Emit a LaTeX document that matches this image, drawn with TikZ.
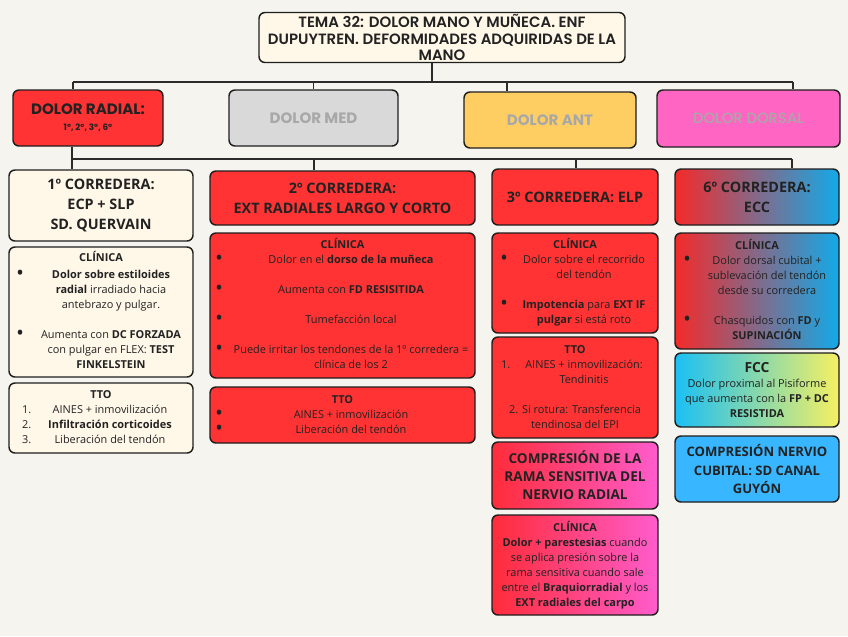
\documentclass[tikz,border=0pt]{standalone}
\usepackage{fontspec}
\usepackage{array}
\setmainfont{Open Sans}
\newfontfamily\popfont{Poppins}
\newfontfamily\popmedfont{Poppins Medium}
\newfontfamily\popsemifont{Poppins SemiBold}
\usetikzlibrary{positioning}
\definecolor{paper}     {HTML}{F5F4EF}
\definecolor{ink}       {HTML}{222222}
\definecolor{edgeInk}   {HTML}{1E1E1E}
\definecolor{linkInk}   {HTML}{2B2B2B}
\definecolor{creamFill} {HTML}{FFF8E9}
\definecolor{radialRed} {HTML}{FF3333}
\definecolor{medGrey}   {HTML}{D9D9D9}
\definecolor{antYellow} {HTML}{FFCE63}
\definecolor{dorsalPink}{HTML}{FF66C4}
\definecolor{fadedText} {HTML}{A8A8A8}
\definecolor{ramaRed}   {HTML}{FF2C3A}
\definecolor{ramaPink}  {HTML}{FF5CCC}
\definecolor{eccRed}    {HTML}{F42A2A}
\definecolor{eccBlue}   {HTML}{12AAE8}
\definecolor{fccCyan}   {HTML}{1AC0F5}
\definecolor{fccYellow} {HTML}{F5F062}
\definecolor{guyonBlue} {HTML}{38B6FF}
\newdimen\px \px=0.75pt
\newcommand{\bodyfont}{\fontsize{8.2}{11.25}\selectfont}
\newcommand{\headfont}{\fontsize{10.8}{15}\selectfont\bfseries}
\newcommand{\bul}{{\fontsize{12}{12}\selectfont\bfseries\textbullet}}
\newcommand{\blist}[3]{\begin{tabular}{@{}p{#1\px}@{}>{\centering\arraybackslash}p{#2\px}@{}}#3\end{tabular}}
\newcommand{\fullrow}[1]{\multicolumn{2}{@{}c@{}}{#1}}
\tikzset{
  sz/.style 2 args={minimum width={#1*0.75pt},minimum height={#2*0.75pt}},
  cardBox/.style={draw=edgeInk,line width=1.1pt,rounded corners=4.5pt,
                  inner sep=0pt,align=center,text=ink},
  creamBox/.style={cardBox,fill=creamFill},
  redBox/.style={cardBox,fill=radialRed},
  pinkBox/.style={cardBox,left color=ramaRed,right color=ramaPink},
  mixBox/.style={cardBox,left color=eccRed,right color=eccBlue},
  fccBox/.style={cardBox,left color=fccCyan,right color=fccYellow},
  catBox/.style={cardBox,font=\popfont\fontsize{11.3}{11.25}\selectfont\bfseries},
  headTxt/.style={font=\headfont},
  bodyTxt/.style={font=\bodyfont},
  link/.style={draw=linkInk,line width=1.1pt},
}

\begin{document}
\begin{tikzpicture}[x=0.75pt,y=-0.75pt]
\fill[paper] (0,0) rectangle (848,636);
\useasboundingbox (0,0) rectangle (848,636);

% Title and the four kinds of pain
\node[creamBox,sz={366}{50},font=\popsemifont\fontsize{11.2}{12.3}\selectfont]
  (title) at (442,37.5)
  {TEMA 32: DOLOR MANO Y MUÑECA. ENF\\DUPUYTREN. DEFORMIDADES ADQUIRIDAS DE LA\\MANO};

\node[catBox,fill=radialRed,sz={150}{56}] (radial) at (88,118)
  {DOLOR RADIAL:\\[1pt]{\fontsize{6.6}{7}\selectfont 1º, 2º, 3º, 6º}};
\node[catBox,fill=medGrey,text=fadedText,sz={169}{56}] (med) at (313.5,118) {DOLOR MED};
\node[catBox,fill=antYellow,text=fadedText,sz={172}{56}] (ant) at (550,120) {DOLOR ANT};
\node[catBox,fill=dorsalPink,text=fadedText,sz={183}{57},
      font=\popmedfont\fontsize{11.1}{11.25}\selectfont] (dorsal) at (748.5,118.5) {DOLOR DORSAL};

\coordinate (bus1) at (432,82);
\coordinate (dropRad) at (73,82);
\coordinate (dropMed) at (313.5,82);
\coordinate (dropAnt) at (507,82);
\coordinate (dropDor) at (793,82);
\draw[link] (bus1 |- title.south) -- (bus1);
\draw[link] (dropRad) -- (dropDor);
\foreach \d/\n in {dropRad/radial,dropMed/med,dropAnt/ant,dropDor/dorsal}
  \draw[link] (\d) -- (\d |- \n.north);

% 1st compartment
\node[creamBox,headTxt,sz={184}{71}] (cor1) at (101,205.5)
  {1º CORREDERA:\\ECP + SLP\\SD. QUERVAIN};
\node[creamBox,bodyTxt,sz={184}{130}] (clin1) at (101,312) {\blist{20}{148}{%
  \fullrow{\textbf{CLÍNICA}}\\[2\px]
  \bul & \textbf{Dolor sobre estiloides}\\
  & \textbf{radial} irradiado hacia\\
  & antebrazo y pulgar.\\
  &\\
  \bul & Aumenta con \textbf{DC FORZADA}\\
  & con pulgar en FLEX: \textbf{TEST}\\
  & \textbf{FINKELSTEIN}}};
\node[creamBox,bodyTxt,sz={184}{70}] (tto1) at (101,418) {\blist{18}{140}{%
  \fullrow{\textbf{TTO}}\\
  1. & AINES + inmovilización\\
  2. & \textbf{Infiltración corticoides}\\
  3. & Liberación del tendón}};

% 2nd compartment
\node[redBox,headTxt,sz={265}{54}] (cor2) at (342.5,198)
  {2º CORREDERA:\\EXT RADIALES LARGO Y CORTO};
\node[redBox,bodyTxt,sz={265}{145}] (clin2) at (342.5,305.5) {\blist{17}{236}{%
  \fullrow{\textbf{CLÍNICA}}\\
  \bul & Dolor en el \textbf{dorso de la muñeca}\\
  &\\
  \bul & Aumenta con \textbf{FD RESISITIDA}\\
  &\\
  \bul & Tumefacción local\\
  &\\
  \bul & Puede irritar los tendones de la 1º corredera =\\
  & clínica de los 2}};
\node[redBox,bodyTxt,sz={265}{56}] (tto2) at (342.5,415) {\blist{17}{236}{%
  \fullrow{\textbf{TTO}}\\
  \bul & AINES + inmovilización\\
  \bul & Liberación del tendón}};

% 3rd compartment and radial nerve
\node[redBox,headTxt,sz={166}{56}] (cor3) at (575,197) {3º CORREDERA: ELP};
\node[redBox,bodyTxt,sz={166}{100}] (clin3) at (575,283) {\blist{18}{130}{%
  \fullrow{\textbf{CLÍNICA}}\\
  \bul & Dolor sobre el recorrido\\
  & del tendón\\
  &\\
  \bul & \textbf{Impotencia} para \textbf{EXT IF}\\
  & \textbf{pulgar} si está roto}};
\node[redBox,bodyTxt,sz={166}{101}] (tto3) at (575,387.5) {\blist{18}{130}{%
  \fullrow{\textbf{TTO}}\\
  1. & AINES + inmovilización:\\
  & Tendinitis\\
  &\\
  \fullrow{2. Si rotura: Transferencia}\\
  \fullrow{tendinosa del EPI}}};
\node[pinkBox,sz={166}{67},font=\fontsize{10.2}{13.5}\selectfont\bfseries] (rama) at (575,475.5)
  {COMPRESIÓN DE LA\\RAMA SENSITIVA DEL\\NERVIO RADIAL};
\node[pinkBox,bodyTxt,sz={166}{100}] (clin3b) at (575,565)
  {\textbf{CLÍNICA}\\\textbf{Dolor + parestesias} cuando\\se aplica presión sobre la\\
   rama sensitiva cuando sale\\entre el \textbf{Braquiorradial} y los\\\textbf{EXT radiales del carpo}};

% 6th compartment and ulnar side
\node[mixBox,headTxt,sz={164}{56}] (cor6) at (757,197) {6º CORREDERA:\\ECC};
\node[mixBox,bodyTxt,sz={164}{116}] (clin6) at (757,291) {\blist{20}{126}{%
  \fullrow{\textbf{CLÍNICA}}\\
  \bul & Dolor dorsal cubital +\\
  & sublevación del tendón\\
  & desde su corredera\\
  &\\
  \bul & Chasquidos con \textbf{FD} y\\
  & \textbf{SUPINACIÓN}}};
\node[fccBox,bodyTxt,sz={164}{74}] (fcc) at (757,390)
  {{\fontsize{10.4}{12}\selectfont\bfseries FCC}\\Dolor proximal al Pisiforme\\que aumenta con la \textbf{FP + DC}\\\textbf{RESISTIDA}};
\node[cardBox,fill=guyonBlue,sz={164}{66},font=\fontsize{9.8}{13.8}\selectfont\bfseries]
  (guyon) at (757,469) {COMPRESIÓN NERVIO\\CUBITAL: SD CANAL\\GUYÓN};

\coordinate (bus2W) at (72,159);
\coordinate (drop2) at (314,159);
\coordinate (drop3) at (576,159);
\coordinate (bus2E) at (792,159);
\draw[link] (bus2W |- radial.south) -- (bus2W);
\draw[link] (bus2W) -- (bus2E);
\foreach \d/\n in {bus2W/cor1,drop2/cor2,drop3/cor3,bus2E/cor6}
  \draw[link] (\d) -- (\d |- \n.north);

\end{tikzpicture}
\end{document}
